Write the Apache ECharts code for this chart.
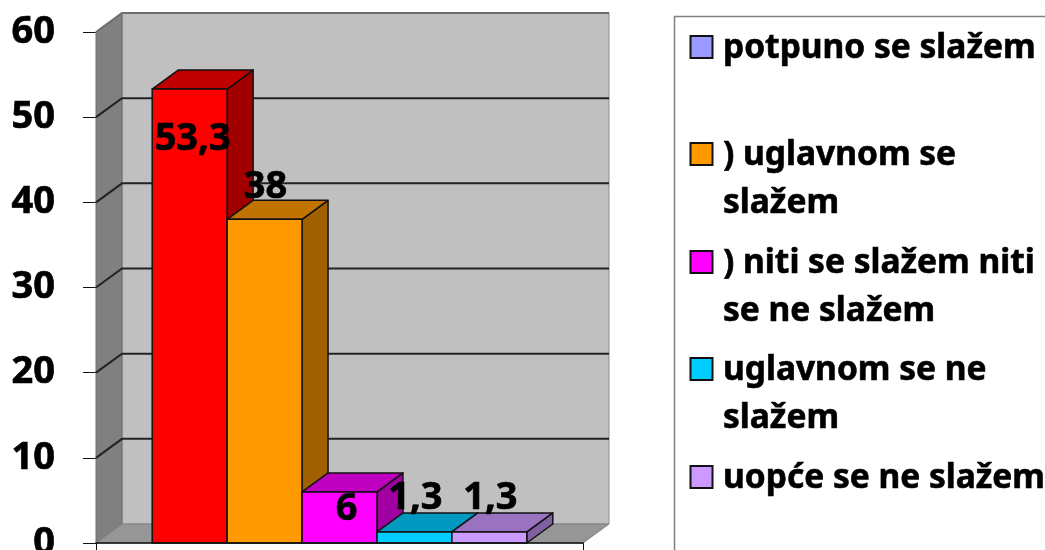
<!DOCTYPE html>
<html>
<head>
<meta charset="utf-8">
<title>chart</title>
<script src="https://cdn.jsdelivr.net/npm/echarts@6/dist/echarts.min.js"></script>
<style>
html, body { margin: 0; padding: 0; background: #fff; }
#echart { width: 1045px; height: 550px; }
</style>
</head>
<body>
<div id="echart"></div>
<script>
// data
var seriesNames = ['potpuno se slažem', ') uglavnom se\nslažem', ') niti se slažem niti\nse ne slažem', 'uglavnom se ne\nslažem', 'uopće se ne slažem'];
var seriesValues = [53.3, 38, 6, 1.3, 1.3];
var valueLabels = ['53,3', '38', '6', '1,3', '1,3'];
var yTicks = [0, 10, 20, 30, 40, 50, 60];

// colours
var frontColors = ['#ff0000', '#ff9900', '#ff00ff', '#00ccff', '#cc99ff'];
var topColors = ['#c00000', '#c07300', '#c000c0', '#009ac0', '#9a73c0'];
var sideColors = ['#a00000', '#a06000', '#a000a0', '#0080a0', '#8060a0'];
var legendColors = ['#9999ff', '#ff9900', '#ff00ff', '#00ccff', '#cc99ff'];

// 3d look
var depthX = 26;
var depthY = 19;
var gapShare = 1.5;
// label shift from the middle of the bar top
var labelShift = [[3, 50], [1, -32], [7, 17], [1, -34], [1, -34]];
var legendCenters = [47, 154, 262, 369, 477];

var fontName = '"Noto Sans", sans-serif';
var myChart = echarts.init(document.getElementById('echart'));

function poly(points, fill, stroke, width) {
  return {
    type: 'polygon',
    shape: { points: points },
    style: { fill: fill, stroke: stroke || null, lineWidth: width || 0, lineJoin: 'round' }
  };
}

function renderWalls(params, api) {
  var tick = api.value(0);
  var y = api.coord([0, tick])[1];
  var box = params.coordSys;
  var left = box.x;
  var right = box.x + box.width;
  var bottom = box.y + box.height;
  var top = box.y;
  var children = [];
  if (tick === 0) {
    children.push(poly([[left + depthX, top - depthY], [right + depthX, top - depthY], [right + depthX, bottom - depthY], [left + depthX, bottom - depthY]], '#c0c0c0', '#8c8c8c', 1));
    children.push(poly([[left, top], [left + depthX, top - depthY], [left + depthX, bottom - depthY], [left, bottom]], '#808080', '#6e6e6e', 1));
    children.push(poly([[left, bottom], [left + depthX, bottom - depthY], [right + depthX, bottom - depthY], [right, bottom]], '#969696', '#808080', 1));
  } else {
    var lineColor = tick === 60 ? '#6e6e6e' : '#222222';
    children.push({
      type: 'polyline',
      shape: { points: [[left, y], [left + depthX, y - depthY], [right + depthX, y - depthY]] },
      style: { fill: null, stroke: lineColor, lineWidth: 2 }
    });
  }
  return { type: 'group', children: children };
}

function makeBar(i) {
  return function (params, api) {
    var center = api.coord([0, 0])[0];
    var band = api.size([1, 0])[0];
    var w = band / (seriesValues.length + gapShare);
    var x0 = center - w * seriesValues.length / 2 + w * i;
    var x1 = x0 + w;
    var yTop = api.coord([0, api.value(1)])[1];
    var yBase = api.coord([0, 0])[1];
    var line = '#111111';
    return {
      type: 'group',
      children: [
        poly([[x1, yTop], [x1 + depthX, yTop - depthY], [x1 + depthX, yBase - depthY], [x1, yBase]], sideColors[i], line, 1.5),
        poly([[x0, yTop], [x0 + depthX, yTop - depthY], [x1 + depthX, yTop - depthY], [x1, yTop]], topColors[i], line, 1.5),
        poly([[x0, yTop], [x1, yTop], [x1, yBase], [x0, yBase]], frontColors[i], line, 1.5),
        {
          type: 'text',
          z2: 100,
          style: {
            x: (x0 + x1) / 2 + labelShift[i][0],
            y: yTop + labelShift[i][1],
            text: valueLabels[i],
            align: 'center',
            verticalAlign: 'middle',
            fill: '#000',
            stroke: '#000',
            lineWidth: 0.7,
            font: 'bold 38px ' + fontName
          }
        }
      ]
    };
  };
}

var series = [{
  type: 'custom',
  name: 'walls',
  silent: true,
  renderItem: renderWalls,
  encode: { y: 0 },
  data: yTicks.map(function (t) { return [t]; })
}];
seriesNames.forEach(function (name, i) {
  series.push({
    type: 'custom',
    name: name,
    renderItem: makeBar(i),
    encode: { x: 0, y: 1 },
    data: [[0, seriesValues[i]]]
  });
});

// legend frame and rows
var legendGraphics = [{
  type: 'rect',
  shape: { x: 674.5, y: 16.5, width: 400, height: 560 },
  style: { fill: null, stroke: '#808080', lineWidth: 1.5 }
}];
seriesNames.forEach(function (name, i) {
  legendGraphics.push({
    type: 'rect',
    shape: { x: 690.5, y: legendCenters[i] - 11, width: 22, height: 22 },
    style: { fill: legendColors[i], stroke: '#111111', lineWidth: 2 }
  });
  legendGraphics.push({
    type: 'text',
    style: {
      x: 723,
      y: legendCenters[i] - 23,
      text: name,
      font: 'bold 33.5px ' + fontName,
      lineHeight: 48,
      fill: '#000',
      stroke: '#000',
      lineWidth: 0.6,
      verticalAlign: 'top'
    }
  });
});

var option = {
  animation: false,
  backgroundColor: '#ffffff',
  tooltip: { show: false },
  grid: { left: 96, right: 462, top: 32, bottom: 7, outerBoundsMode: 'none' },
  xAxis: {
    type: 'category',
    data: [''],
    axisLine: { lineStyle: { color: '#111', width: 1.5 } },
    axisTick: { show: true, length: 8, lineStyle: { color: '#111' } },
    axisLabel: { show: false },
    z: 5
  },
  yAxis: {
    type: 'value',
    min: 0,
    max: 60,
    interval: 10,
    splitLine: { show: false },
    axisLine: { show: true, lineStyle: { color: '#555' } },
    axisTick: { show: true, length: 13, lineStyle: { color: '#111' } },
    axisLabel: {
      margin: 41, color: '#000', fontWeight: 'bold', fontSize: 38, fontFamily: fontName,
      textBorderColor: '#000', textBorderWidth: 0.7, lineHeight: 38, padding: [6, 0, 0, 0]
    }
  },
  graphic: legendGraphics,
  series: series
};

myChart.setOption(option);
</script>
</body>
</html>
